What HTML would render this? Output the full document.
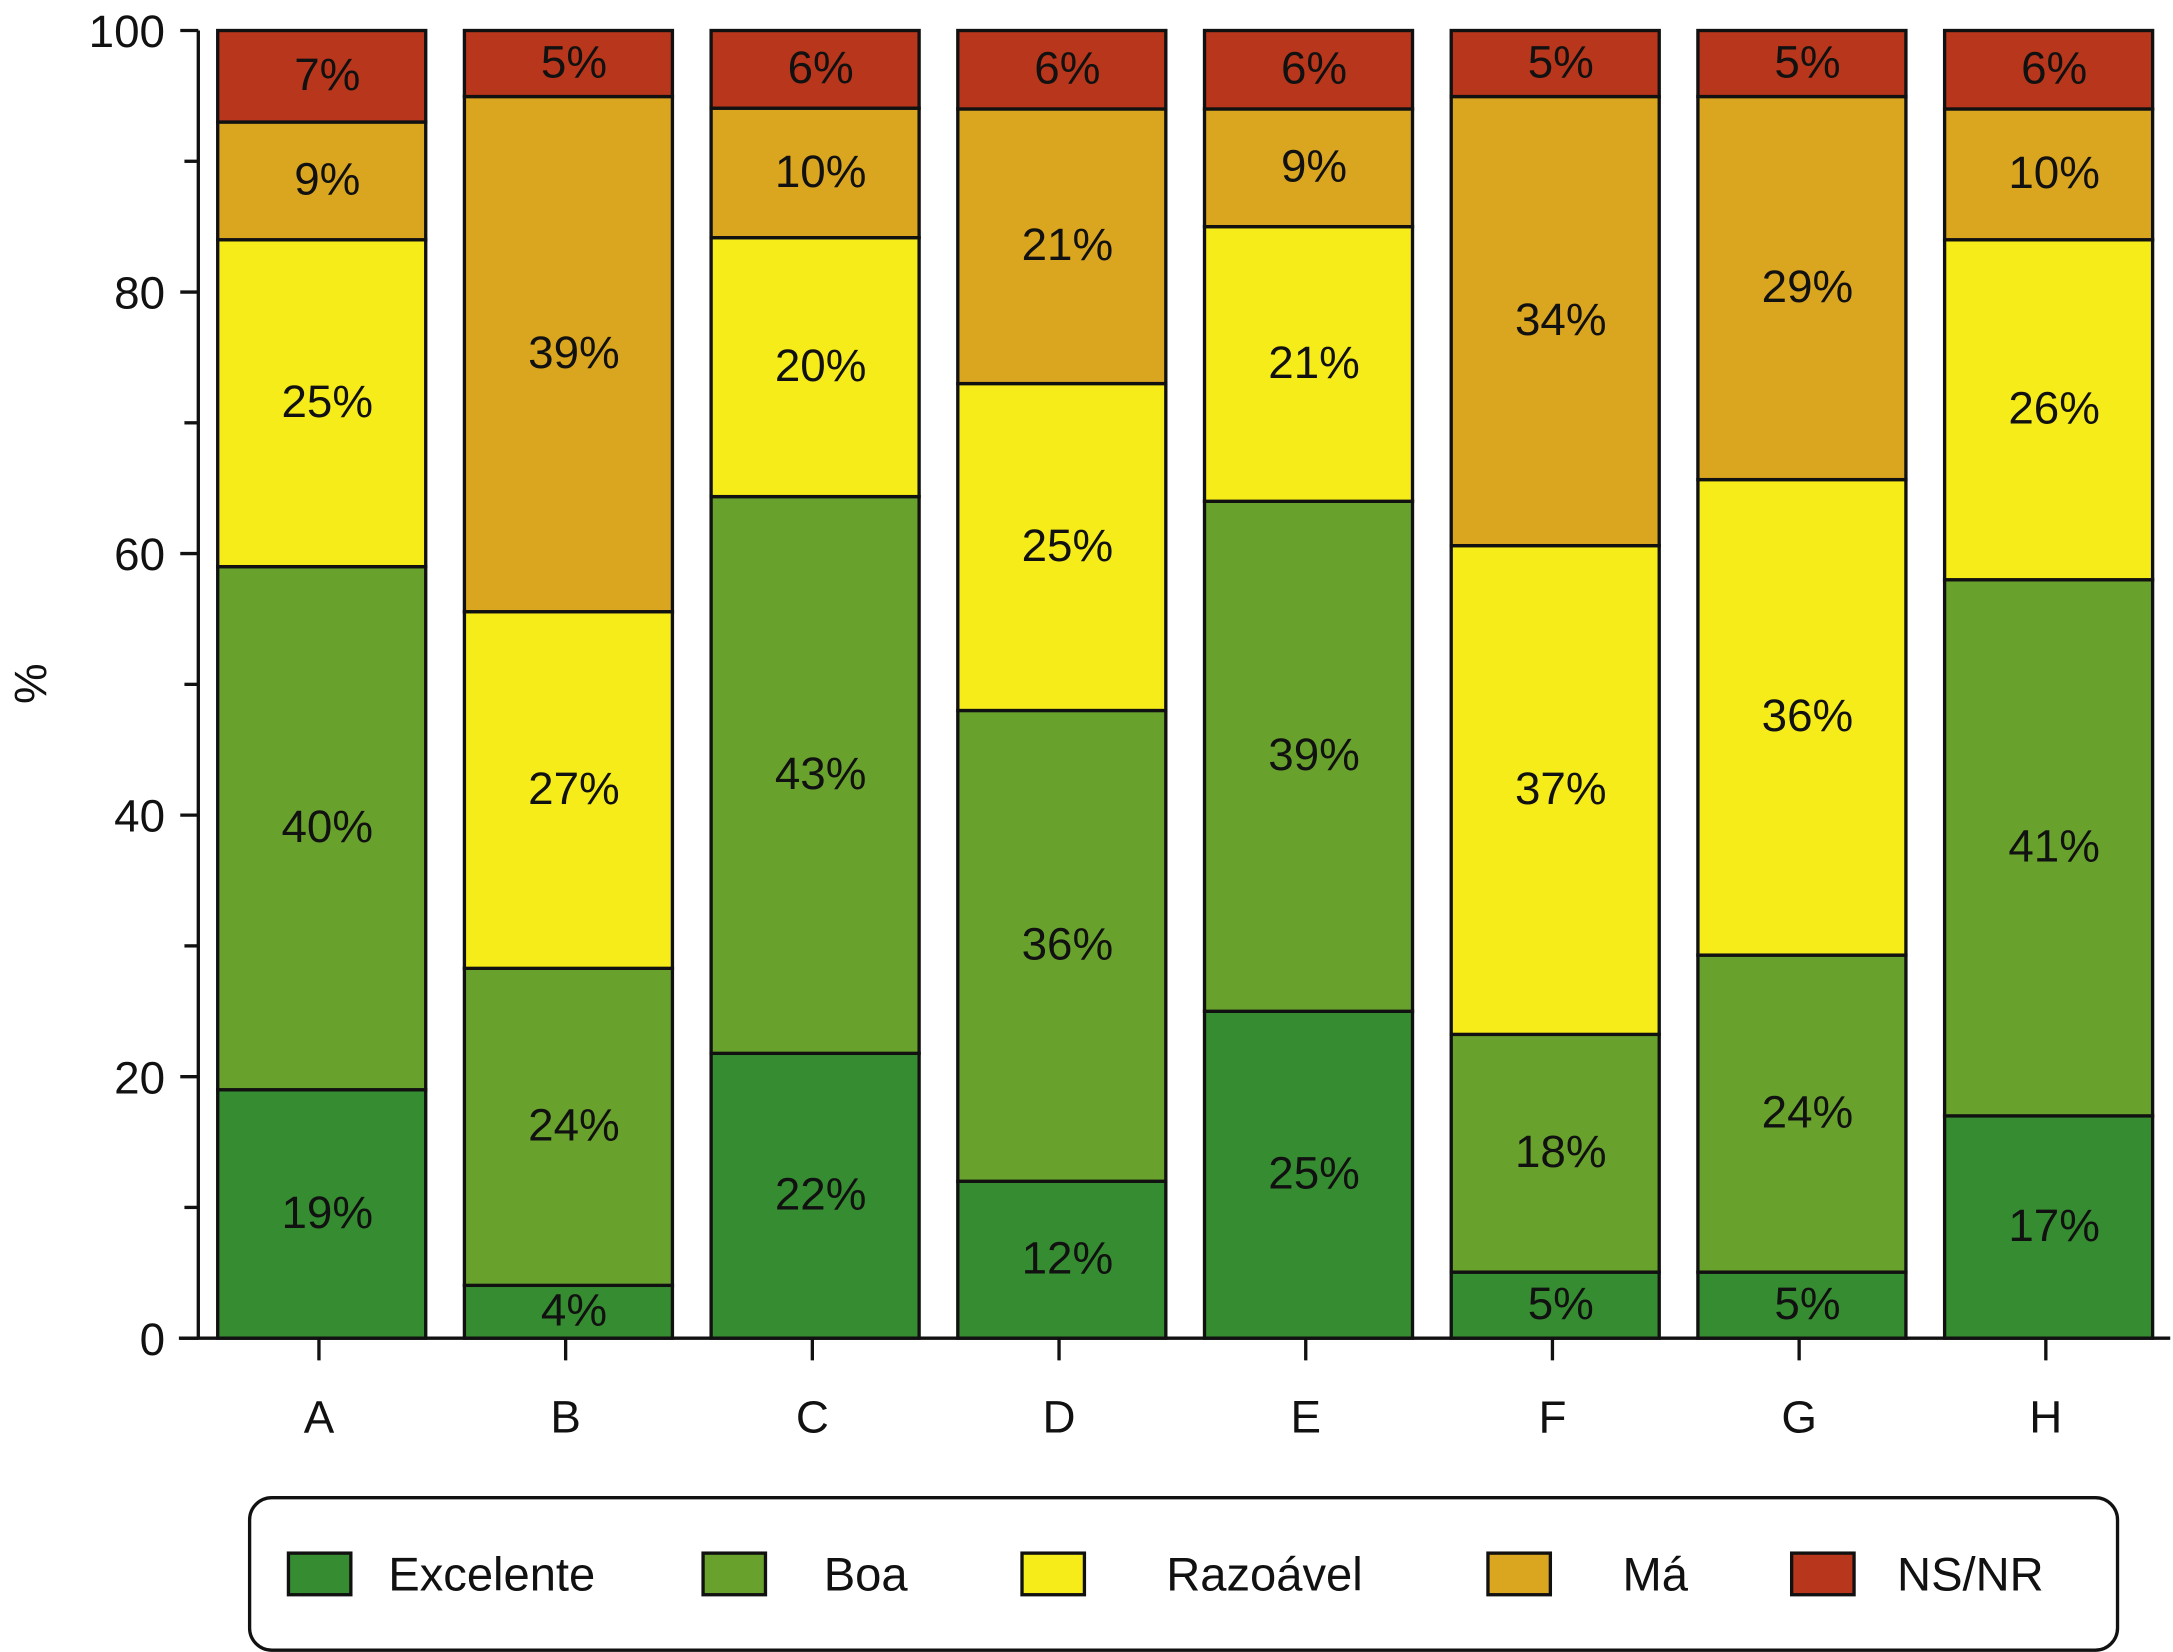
<!DOCTYPE html>
<html><head><meta charset="utf-8"><style>html,body{margin:0;padding:0;background:#fff}svg{display:block}</style></head>
<body>
<svg id="chart" xmlns="http://www.w3.org/2000/svg" width="2173" height="1652" viewBox="0 0 1567 1191.3" preserveAspectRatio="none" font-family="Liberation Sans, Arial, sans-serif">
<rect width="1567" height="1192" fill="#fff"/>
<g id="bars"></g>
<g id="axes"></g>
<g id="legend"></g>
</svg>
<script>
const categories = ["A","B","C","D","E","F","G","H"];
const seriesNames = ["Excelente","Boa","Razoável","Má","NS/NR"];
const excelente = [19,4,22,12,25,5,5,17];
const boa = [40,24,43,36,39,18,24,41];
const razoavel = [25,27,20,25,21,37,36,26];
const ma = [9,39,10,21,9,34,29,10];
const nsnr = [7,5,6,6,6,5,5,6];
const yTicks = [0,20,40,60,80,100];
const colors = ["#368c31","#68a22d","#f6ec1a","#dba61f","#b8361b"];
const series = [excelente,boa,razoavel,ma,nsnr];
const NS="http://www.w3.org/2000/svg";
const x0=143, x1=1565, y0=965, y100=22;
const yS=v=>y0-(y0-y100)*v/100;
const step=177.9, barW=150, firstLeft=157;
const xLeft=i=>firstLeft+i*step;
function mk(tag,attrs,parent,txt){const e=document.createElementNS(NS,tag);for(const k in attrs)e.setAttribute(k,attrs[k]);if(txt!==undefined)e.textContent=txt;parent.appendChild(e);return e;}
const bars=document.getElementById('bars'), axes=document.getElementById('axes'), legend=document.getElementById('legend');
categories.forEach((c,i)=>{
  const total=series.reduce((s,a)=>s+a[i],0);
  let cum=0;
  series.forEach((arr,j)=>{
    const v=arr[i]*100/total;
    const yt=yS(cum+v), yb=yS(cum);
    const r=mk('rect',{x:xLeft(i),y:yt,width:barW,height:yb-yt,fill:colors[j],stroke:'#111','stroke-width':2.4},bars);
    
    
    const t=mk('text',{x:xLeft(i)+barW/2+4,y:(yt+yb)/2+10,'text-anchor':'middle','font-size':33,fill:'#111'},bars,arr[i]+'%');
    
    
    cum+=v;
  });
  const tk=mk('line',{x1:xLeft(i)+barW/2-2,x2:xLeft(i)+barW/2-2,y1:y0,y2:y0+16,stroke:'#111','stroke-width':2.4},axes);
  
  
  const tl=mk('text',{x:xLeft(i)+barW/2-2,y:1033,'text-anchor':'middle','font-size':33,fill:'#111'},axes,c);
  
  
});
const ya=mk('line',{x1:x0,x2:x0,y1:y100,y2:y0,stroke:'#111','stroke-width':2.4},axes);


const xa=mk('line',{x1:x0-14,x2:x1,y1:y0,y2:y0,stroke:'#111','stroke-width':2.4},axes);


for(let v=10;v<100;v+=20){
  const m=mk('line',{x1:x0-10,x2:x0,y1:yS(v),y2:yS(v),stroke:'#111','stroke-width':2.4},axes);
  
  
}
yTicks.forEach(v=>{
  const l=mk('line',{x1:x0-13,x2:x0,y1:yS(v),y2:yS(v),stroke:'#111','stroke-width':2.4},axes);
  
  
  const t=mk('text',{x:119,y:yS(v)+12,'text-anchor':'end','font-size':33,fill:'#111'},axes,String(v));
  
  
});
const yt=mk('text',{x:0,y:0,transform:'translate(33,493) rotate(-90)','text-anchor':'middle','font-size':33,fill:'#111'},axes,'%');


const box=mk('rect',{x:180,y:1080,width:1347,height:110,rx:16,fill:'#fff',stroke:'#111','stroke-width':2.4},legend);


const swX=[208,507,737,1073,1292], txX=[280,594,841,1170,1368];
seriesNames.forEach((n,j)=>{
  const s=mk('rect',{x:swX[j],y:1120,width:45,height:30,fill:colors[j],stroke:'#111','stroke-width':2.4},legend);
  
  
  const t=mk('text',{x:txX[j],y:1147,'font-size':34,fill:'#111'},legend,n);
  
  
});
</script>
</body></html>
